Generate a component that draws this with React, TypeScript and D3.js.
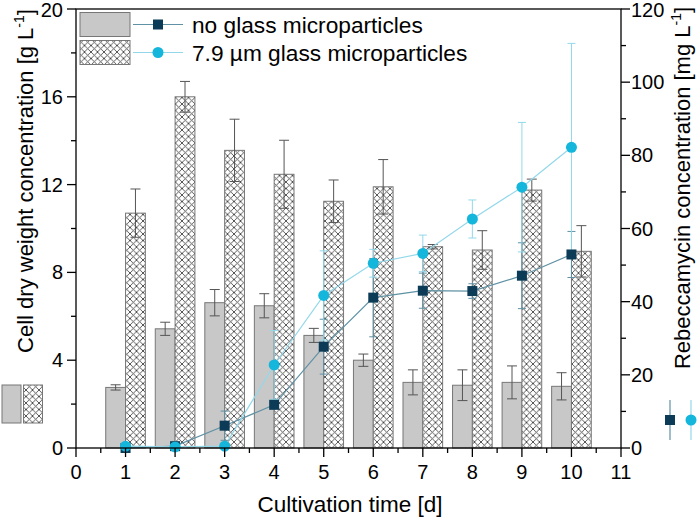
import React from "react";
import * as d3 from "d3";

const days = [1, 2, 3, 4, 5, 6, 7, 8, 9, 10];
const cdwNoGlass = [2.76, 5.43, 6.62, 6.48, 5.13, 4.0, 2.99, 2.86, 2.99, 2.81];
const cdwNoGlassErr = [0.12, 0.3, 0.6, 0.55, 0.32, 0.28, 0.57, 0.7, 0.75, 0.62];
const cdwGlass = [10.7, 16.0, 13.56, 12.47, 11.24, 11.9, 9.17, 9.02, 11.75, 8.96];
const cdwGlassErr = [1.1, 0.7, 1.42, 1.55, 0.97, 1.24, 0.1, 0.88, 0.5, 1.17];
const rebNoGlass = [0, 0.5, 6.1, 11.8, 27.7, 41.1, 43.0, 42.9, 47.1, 52.9];
const rebNoGlassErr = [0, 0, 4.0, 0.8, 7.5, 10.7, 4.8, 2.0, 9.0, 6.3];
const rebGlass = [0.5, 0.3, 0.5, 22.7, 41.7, 50.5, 53.2, 62.6, 71.3, 82.2];
const rebGlassErr = [0, 0, 0, 9.4, 12.2, 3.8, 5.0, 5.2, 17.7, 28.4];

const xTicks = [0, 1, 2, 3, 4, 5, 6, 7, 8, 9, 10, 11];
const yLeftTicks = [0, 4, 8, 12, 16, 20];
const yRightTicks = [0, 20, 40, 60, 80, 100, 120];

const legendLabels = ["no glass microparticles", "7.9 µm glass microparticles"];

const FONT = "'Liberation Sans', Arial, Helvetica, sans-serif";
const GREY_FILL = "#c8c8c8";
const BAR_STROKE = "#777777";
const ERR_GREY = "#555555";
const DARK = "#0b3b57";
const DARK_LINE = "#5f92a4";
const CYAN = "#14b6dc";
const CYAN_LINE = "#93d8ea";

export default function App() {
  const W = 699, H = 519;
  const x = d3.scaleLinear().domain([0, 11]).range([76, 621]);
  const yL = d3.scaleLinear().domain([0, 20]).range([448, 9]);
  const yR = d3.scaleLinear().domain([0, 120]).range([448, 9]);
  const bw = x(0.4) - x(0);
  const minorX = d3.range(0, 11.01, 0.5);
  const minorL = d3.range(0, 20.01, 2);
  const minorR = d3.range(0, 120.01, 10);

  const lineGen = (vals: number[]) =>
    d3.line<number>().x((_, i) => x(days[i])).y((v) => yR(v))(vals) || "";

  const errBar = (cx: number, yTop: number, yBot: number, color: string, cap: number, key: string) => (
    <g key={key} stroke={color} strokeWidth={1} fill="none">
      <line x1={cx} x2={cx} y1={yTop} y2={yBot} />
      <line x1={cx - cap / 2} x2={cx + cap / 2} y1={yTop} y2={yTop} />
      <line x1={cx - cap / 2} x2={cx + cap / 2} y1={yBot} y2={yBot} />
    </g>
  );

  const sq = 10;
  const cr = 5.5;

  return (
    <div style={{ position: "absolute", left: 0, top: 0 }}>
      <svg width={W} height={H} style={{ display: "block", background: "#fff" }} fontFamily={FONT}>
        <defs>
          <pattern id="hatch" width={6.5} height={6.5} patternUnits="userSpaceOnUse">
            <rect width={6.5} height={6.5} fill="#fff" />
            <path d="M0,0 L6.5,6.5 M6.5,0 L0,6.5" stroke="#444" strokeWidth={0.9} />
          </pattern>
        </defs>

        {/* bars */}
        {days.map((d, i) => (
          <g key={"b" + d}>
            <rect x={x(d) - bw} y={yL(cdwNoGlass[i])} width={bw} height={yL(0) - yL(cdwNoGlass[i])}
              fill={GREY_FILL} stroke={BAR_STROKE} strokeWidth={1} />
            <rect x={x(d)} y={yL(cdwGlass[i])} width={bw} height={yL(0) - yL(cdwGlass[i])}
              fill="url(#hatch)" stroke={BAR_STROKE} strokeWidth={1} />
          </g>
        ))}
        {days.map((d, i) => (
          <g key={"be" + d}>
            {errBar(x(d) - bw / 2, yL(cdwNoGlass[i] + cdwNoGlassErr[i]), yL(cdwNoGlass[i] - cdwNoGlassErr[i]), ERR_GREY, 10, "e1")}
            {errBar(x(d) + bw / 2, yL(cdwGlass[i] + cdwGlassErr[i]), yL(cdwGlass[i] - cdwGlassErr[i]), ERR_GREY, 10, "e2")}
          </g>
        ))}

        {/* series lines */}
        <path d={lineGen(rebNoGlass)} fill="none" stroke={DARK_LINE} strokeWidth={1.2} />
        <path d={lineGen(rebGlass)} fill="none" stroke={CYAN_LINE} strokeWidth={1.2} />

        {/* series error bars */}
        {days.map((d, i) =>
          rebNoGlassErr[i] > 0
            ? errBar(x(d), yR(rebNoGlass[i] + rebNoGlassErr[i]), yR(Math.max(0, rebNoGlass[i] - rebNoGlassErr[i])), DARK_LINE, 8, "ne" + d)
            : null
        )}
        {days.map((d, i) =>
          rebGlassErr[i] > 0
            ? errBar(x(d), yR(rebGlass[i] + rebGlassErr[i]), yR(Math.max(0, rebGlass[i] - rebGlassErr[i])), CYAN_LINE, 8, "ge" + d)
            : null
        )}

        {/* markers */}
        {days.map((d, i) => (
          <rect key={"m1" + d} x={x(d) - sq / 2} y={yR(rebNoGlass[i]) - sq / 2} width={sq} height={sq} fill={DARK} />
        ))}
        {days.map((d, i) => (
          <circle key={"m2" + d} cx={x(d)} cy={yR(rebGlass[i])} r={cr} fill={CYAN} />
        ))}

        {/* frame */}
        <rect x={76} y={9} width={545} height={439} fill="none" stroke="#000" strokeWidth={1.3} />

        {/* bottom axis ticks */}
        {minorX.map((t) => {
          const major = Math.abs(t - Math.round(t)) < 1e-6;
          return <line key={"xt" + t} x1={x(t)} x2={x(t)} y1={448} y2={448 + (major ? 9 : 5)} stroke="#000" strokeWidth={1.3} />;
        })}
        {xTicks.map((t) => (
          <text key={"xl" + t} x={x(t)} y={479} fontSize={20} textAnchor="middle" fill="#000">{t}</text>
        ))}

        {/* left axis */}
        {minorL.map((t) => {
          const major = t % 4 === 0;
          return <line key={"lt" + t} x1={76} x2={76 - (major ? 9 : 5)} y1={yL(t)} y2={yL(t)} stroke="#000" strokeWidth={1.3} />;
        })}
        {yLeftTicks.map((t) => (
          <text key={"ll" + t} x={63} y={Math.max(yL(t) + 7, 17)} fontSize={20} textAnchor="end" fill="#000">{t}</text>
        ))}

        {/* right axis */}
        {minorR.map((t) => {
          const major = t % 20 === 0;
          return <line key={"rt" + t} x1={621} x2={621 + (major ? 9 : 5)} y1={yR(t)} y2={yR(t)} stroke="#000" strokeWidth={1.3} />;
        })}
        {yRightTicks.map((t) => (
          <text key={"rl" + t} x={631} y={Math.max(yR(t) + 7, 17)} fontSize={20} textAnchor="start" fill="#000">{t}</text>
        ))}

        {/* axis titles */}
        <text x={350} y={512} fontSize={22.5} textAnchor="middle" fill="#000">Cultivation time [d]</text>
        <text transform="translate(33,181) rotate(-90)" fontSize={22} textAnchor="middle" fill="#000">
          Cell dry weight concentration [g L<tspan fontSize={14} dy={-9}>-1</tspan><tspan dy={9}>]</tspan>
        </text>
        <text transform="translate(690,188) rotate(-90)" fontSize={22} textAnchor="middle" fill="#000">
          Rebeccamycin concentration [mg L<tspan fontSize={14} dy={-9}>-1</tspan><tspan dy={9}>]</tspan>
        </text>

        {/* left-axis symbol legend */}
        <rect x={2} y={385} width={19} height={38} fill={GREY_FILL} stroke={BAR_STROKE} strokeWidth={1} />
        <rect x={23.5} y={385} width={19} height={38} fill="url(#hatch)" stroke={BAR_STROKE} strokeWidth={1} />

        {/* right-axis symbol legend */}
        <line x1={670} x2={670} y1={400} y2={440} stroke={DARK_LINE} strokeWidth={1.2} />
        <rect x={670 - sq / 2} y={420 - sq / 2} width={sq} height={sq} fill={DARK} />
        <line x1={691} x2={691} y1={400} y2={440} stroke={CYAN_LINE} strokeWidth={1.2} />
        <circle cx={691} cy={420} r={cr} fill={CYAN} />

        {/* main legend */}
        <rect x={80} y={12.5} width={50} height={24} fill={GREY_FILL} stroke={BAR_STROKE} strokeWidth={1} />
        <rect x={80} y={40.5} width={50} height={24} fill="url(#hatch)" stroke={BAR_STROKE} strokeWidth={1} />
        <line x1={133} x2={183} y1={24.5} y2={24.5} stroke={DARK_LINE} strokeWidth={1.2} />
        <rect x={158 - sq / 2} y={24.5 - sq / 2} width={sq} height={sq} fill={DARK} />
        <line x1={133} x2={183} y1={52.5} y2={52.5} stroke={CYAN_LINE} strokeWidth={1.2} />
        <circle cx={158} cy={52.5} r={cr} fill={CYAN} />
        <text x={192} y={33} fontSize={22.7} fill="#000">{legendLabels[0]}</text>
        <text x={192} y={61} fontSize={22.7} fill="#000">{legendLabels[1]}</text>
      </svg>
    </div>
  );
}
